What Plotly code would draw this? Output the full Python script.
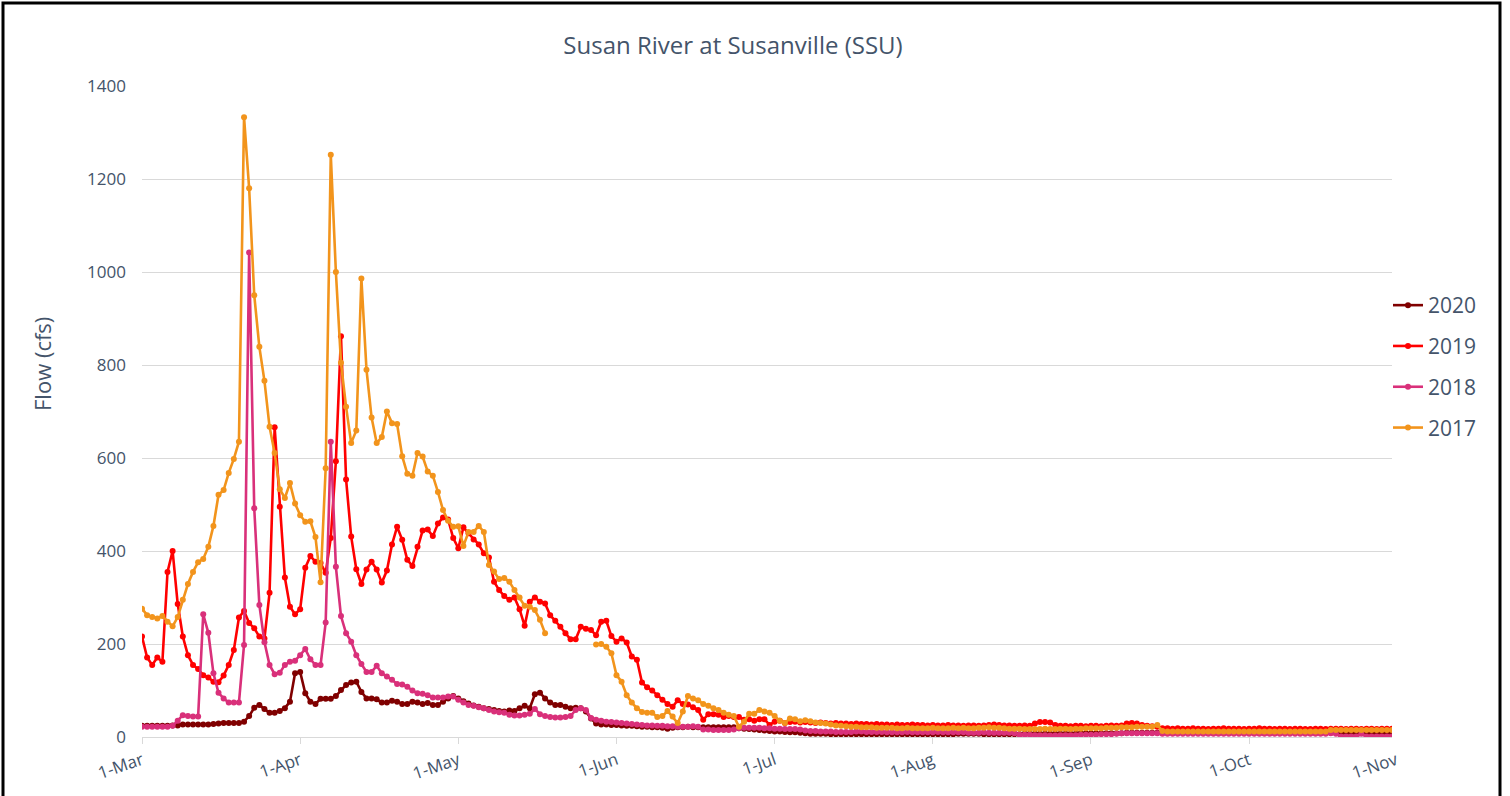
import pandas as pd
import plotly.graph_objects as go

# Daily dates (season axis), Mar 1 .. Nov 1
start_date = "2021-03-01"
end_date = "2021-11-01"
tick_labels = ["1-Mar", "1-Apr", "1-May", "1-Jun", "1-Jul", "1-Aug", "1-Sep", "1-Oct"]
last_tick_label = "1-Nov"

years = ["2020", "2019", "2018", "2017"]
colors = {"2020": "#800000", "2019": "#FF0000", "2018": "#D9307A", "2017": "#F2941C"}

flow_2020 = [
    # Mar
    24, 24, 24, 24, 24, 24, 25, 25, 27, 27, 27, 27, 27, 27, 28, 29, 30, 30, 30, 30,
    33, 45, 63, 69, 60, 52, 52, 56, 62, 76, 137,
    # Apr
    140, 94, 76, 71, 82, 82, 82, 88, 101, 112, 117, 119, 97, 83, 83, 81, 74, 74, 78, 76,
    71, 71, 76, 74, 71, 73, 69, 69, 76, 83,
    # May
    88, 83, 77, 72, 68, 65, 62, 60, 58, 56, 55, 57, 56, 62, 67, 62, 92, 95, 83, 74,
    69, 69, 65, 62, 63, 62, 55, 40, 29, 27, 27,
    # Jun
    26, 26, 25, 24, 24, 23, 22, 22, 21, 21, 20, 18, 20, 21, 21, 22, 21, 21, 21, 21,
    21, 21, 21, 21, 21, 19, 18, 17, 16, 15,
    # Jul
    14, 13, 12, 12, 11, 10, 10, 9, 8, 7, 7, 7, 7, 6, 6, 6, 6, 6, 6, 6,
    6, 6, 6, 6, 6, 6, 6, 6, 6, 6, 6,
    # Aug
    6, 6, 6, 6, 6, 6, 6, 7, 7, 7, 7, 7, 6, 6, 6, 6, 6, 6, 6, 6,
    7, 7, 7, 7, 7, 7, 7, 7, 7, 7, 7,
    # Sep
    8, 8, 8, 8, 8, 8, 8, 8, 8, 9, 9, 9, 9, 9, 9, 9, 9, 9, 9, 9,
    9, 9, 9, 9, 9, 9, 9, 9, 9, 9,
    # Oct
    9, 9, 9, 9, 9, 9, 9, 9, 9, 9, 9, 9, 9, 9, 9, 9, 9, 9, 9, 9,
    9, 9, 9, 9, 9, 9, 9, 9, 9, 9, 9,
    # Nov 1
    9,
]

flow_2019 = [
    # Mar
    216, 171, 155, 171, 162, 355, 400, 286, 216, 176, 155, 146, 133, 128, 119, 118, 132, 155, 187, 257,
    271, 245, 234, 216, 212, 310, 666, 495, 343, 280, 264,
    # Apr
    275, 364, 389, 377, 374, 353, 428, 593, 862, 554, 431, 361, 329, 360, 377, 360, 332, 358, 414, 452,
    424, 381, 368, 409, 444, 446, 432, 459, 472, 468,
    # May
    428, 406, 451, 438, 425, 414, 395, 386, 334, 316, 303, 295, 300, 275, 239, 291, 300, 291, 287, 262,
    250, 237, 223, 210, 210, 237, 233, 230, 219, 248, 250,
    # Jun
    217, 205, 212, 203, 173, 166, 117, 107, 100, 90, 80, 71, 65, 79, 71, 70, 64, 58, 37, 49,
    49, 48, 43, 45, 43, 43, 37, 38, 35, 38,
    # Jul
    38, 26, 33, 35, 30, 32, 33, 31, 32, 31, 30, 31, 30, 29, 30, 29, 29, 28, 29, 28,
    28, 27, 28, 27, 27, 26, 27, 26, 26, 27, 26,
    # Aug
    26, 25, 26, 25, 25, 26, 25, 25, 24, 25, 25, 24, 25, 26, 27, 26, 25, 25, 24, 24,
    25, 24, 29, 32, 32, 31, 26, 24, 24, 23, 24,
    # Sep
    24, 23, 24, 24, 23, 24, 25, 24, 25, 29, 30, 29, 26, 24, 23, 22, 19, 19, 18, 19,
    18, 18, 19, 18, 18, 17, 18, 18, 19, 18,
    # Oct
    18, 18, 17, 18, 18, 19, 18, 18, 17, 18, 18, 17, 18, 18, 17, 17, 18, 18, 17, 18,
    18, 18, 17, 18, 18, 17, 18, 18, 17, 18, 18,
    # Nov 1
    18,
]

flow_2018 = [
    # Mar
    22, 22, 22, 22, 22, 22, 24, 35, 47, 45, 44, 44, 264, 224, 137, 95, 83, 74, 74, 74,
    198, 1042, 492, 284, 204, 155, 135, 138, 155, 162, 164,
    # Apr
    176, 189, 167, 155, 155, 246, 635, 366, 260, 223, 205, 176, 157, 140, 140, 153, 137, 130, 123, 114,
    113, 108, 100, 94, 93, 90, 85, 85, 85, 87,
    # May
    87, 80, 74, 69, 67, 64, 62, 58, 55, 53, 52, 48, 46, 46, 48, 50, 60, 49, 45, 43,
    42, 42, 43, 45, 58, 62, 58, 41, 37, 35, 33,
    # Jun
    32, 31, 30, 29, 28, 27, 26, 25, 25, 24, 24, 23, 23, 22, 22, 22, 23, 22, 16, 16,
    15, 15, 15, 15, 16, 19, 20, 20, 20, 20,
    # Jul
    19, 19, 18, 18, 17, 17, 17, 16, 14, 13, 13, 12, 12, 12, 11, 11, 11, 11, 12, 12,
    11, 11, 11, 11, 10, 10, 10, 10, 11, 10, 10,
    # Aug
    10, 10, 10, 11, 10, 10, 10, 10, 10, 9, 9, 9, 10, 9, 9, 9, 9, 9, 8, 5,
    5, 5, 4, 4, 4, 3, 3, 4, 4, 4, 4,
    # Sep
    5, 5, 5, 5, 6, 6, 6, 7, 8, 8, 8, 8, 8, 8, 8, 8, 7, 7, 7, 7,
    7, 7, 7, 7, 7, 7, 7, 7, 7, 7,
    # Oct
    7, 7, 7, 7, 7, 7, 7, 7, 7, 7, 7, 7, 7, 7, 7, 7, 7, 7, 7, 8,
    7, 1, 1, 1, 1, 7, 1, 1, 1, 1, 1,
    # Nov 1
    1,
]

flow_2017 = [
    # Mar
    276, 262, 258, 255, 260, 248, 238, 258, 295, 329, 355, 376, 383, 409, 454, 521, 531, 568, 598, 635,
    1333, 1180, 950, 839, 766, 667, 611, 533, 514, 546, 502,
    # Apr
    477, 463, 464, 430, 333, 578, 1252, 1000, 805, 710, 632, 659, 986, 790, 687, 632, 645, 700, 675, 673,
    604, 566, 562, 611, 603, 571, 562, 527, 488, 465,
    # May
    452, 453, 411, 441, 441, 454, 441, 370, 356, 340, 342, 334, 316, 300, 282, 280, 273, 252, 223, None,
    None, None, None, None, None, None, None, None, 199, 200, 194,
    # Jun
    180, 133, 119, 90, 74, 62, 54, 52, 52, 43, 45, 56, 44, 30, 55, 88, 83, 79, 71, 67,
    62, 58, 52, 48, 45, 22, 33, 50, 50, 58,
    # Jul
    55, 52, 45, 35, 30, 40, 38, 34, 36, 34, 31, 30, 29, 27, 25, 24, 23, 22, 22, 21,
    21, 21, 20, 20, 20, 20, 19, 19, 20, 19, 19,
    # Aug
    19, 19, 20, 19, 19, 19, 20, 19, 20, 19, 19, 20, 20, 21, 20, 20, 19, 18, 18, 18,
    17, 17, 17, 17, 18, 17, 17, 18, 18, 17, 18,
    # Sep
    18, 19, 19, 19, 19, 20, 20, 20, 21, 21, 21, 22, 22, 22, 22, 26, 13, 12, 12, 12,
    12, 12, 12, 12, 12, 12, 12, 12, 12, 12,
    # Oct
    12, 12, 12, 12, 12, 12, 12, 12, 12, 12, 12, 12, 12, 12, 12, 12, 12, 12, 12, 15,
    15, 15, 15, 15, 15, 15, 15, 15, 15, 15, 15,
    # Nov 1
    15,
]

series = {"2020": flow_2020, "2019": flow_2019, "2018": flow_2018, "2017": flow_2017}

dates = pd.date_range(start_date, end_date, freq="D")
for k, v in series.items():
    assert len(v) == len(dates), (k, len(v), len(dates))

tick_dates = pd.date_range(start_date, periods=len(tick_labels), freq="31D")

TEXT = "#44546A"
GRID = "#D9D9D9"
FONT = "Open Sans"

fig = go.Figure()
for yr in years:
    fig.add_trace(go.Scatter(
        x=dates, y=series[yr], name=yr, mode="lines+markers",
        line=dict(color=colors[yr], width=2.6),
        marker=dict(color=colors[yr], size=6),
        connectgaps=False, legendgroup=yr,
    ))

W, H = 1510, 796
L, R, T, B = 142, 118, 86, 59
pw, ph = W - L - R, H - T - B

def px_x(p):
    return (p - L) / pw

def px_y(p):
    return (H - B - p) / ph

fig.update_layout(
    width=W, height=H,
    margin=dict(l=L, r=R, t=T, b=B),
    paper_bgcolor="white", plot_bgcolor="white",
    font=dict(family=FONT, color=TEXT),
    title=dict(text="Susan River at Susanville (SSU)", x=px_x(733), xref="paper",
               xanchor="center", y=1 - 46 / H, yref="container", yanchor="middle",
               font=dict(size=24, color=TEXT, family=FONT)),
    showlegend=True,
    legend=dict(x=px_x(1388), y=px_y(285), xanchor="left", yanchor="top",
                font=dict(size=21, color=TEXT, family=FONT),
                tracegroupgap=10.5, bgcolor="rgba(0,0,0,0)"),
    xaxis=dict(
        type="date", range=[dates[0], dates[-1]],
        tickmode="array", tickvals=list(tick_dates), ticktext=tick_labels,
        tickangle=-19, tickfont=dict(size=17, color=TEXT, family=FONT),
        showgrid=False, showline=True, linecolor=GRID, linewidth=1,
        ticks="outside", ticklen=6, tickcolor=GRID, zeroline=False,
    ),
    yaxis=dict(
        range=[0, 1400], dtick=200, tick0=0,
        showgrid=True, gridcolor=GRID, gridwidth=1, zeroline=False,
        showline=False, ticks="", tickfont=dict(size=17, color=TEXT, family=FONT),
        ticklabelstandoff=15,
    ),
    shapes=[dict(type="rect", xref="paper", yref="paper",
                 x0=px_x(3), x1=px_x(1500), y0=px_y(800), y1=px_y(3),
                 line=dict(color="black", width=3), fillcolor="rgba(0,0,0,0)", layer="above")],
    annotations=[
        dict(text="Flow (cfs)", textangle=-90, xref="paper", yref="paper",
             x=px_x(42), y=px_y(364), showarrow=False, xanchor="center", yanchor="middle",
             font=dict(size=22, color=TEXT, family=FONT)),
        dict(text=last_tick_label, textangle=-19, xref="paper", yref="paper",
             x=px_x(1374), y=px_y(765), showarrow=False, xanchor="center", yanchor="middle",
             font=dict(size=17, color=TEXT, family=FONT)),
    ],
)

fig.write_html(
    "out.html",
    config={"displayModeBar": False},
    post_script="document.body.style.margin='0';document.body.style.overflow='hidden';",
)
